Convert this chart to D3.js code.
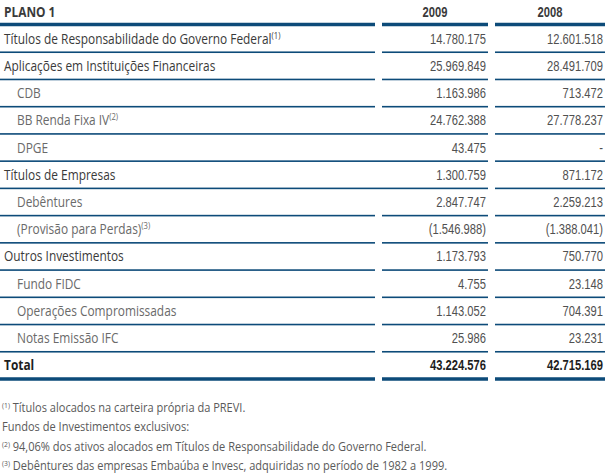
<!DOCTYPE html>
<html><head><meta charset="utf-8">
<script src="https://cdn.jsdelivr.net/npm/d3@7"></script>
<style>body{margin:0;background:#fff}svg{display:block}</style>
</head><body>
<svg id="c" width="605" height="475"></svg>
<script>
// ---- data ----
const headers = ["PLANO 1", "2009", "2008"];
const labels = [
  "T\u00edtulos de Responsabilidade do Governo Federal",
  "Aplica\u00e7\u00f5es em Institui\u00e7\u00f5es Financeiras",
  "CDB",
  "BB Renda Fixa IV",
  "DPGE",
  "T\u00edtulos de Empresas",
  "Deb\u00eantures",
  "(Provis\u00e3o para Perdas)",
  "Outros Investimentos",
  "Fundo FIDC",
  "Opera\u00e7\u00f5es Compromissadas",
  "Notas Emiss\u00e3o IFC",
  "Total"
];
const labelNotes = ["(1)", "", "", "(2)", "", "", "", "(3)", "", "", "", "", ""];
const rowTypes = ["group","group","item","item","item","group","item","item","group","item","item","item","total"];
const values2009 = ["14.780.175","25.969.849","1.163.986","24.762.388","43.475","1.300.759","2.847.747","(1.546.988)","1.173.793","4.755","1.143.052","25.986","43.224.576"];
const values2008 = ["12.601.518","28.491.709","713.472","27.778.237","-","871.172","2.259.213","(1.388.041)","750.770","23.148","704.391","23.231","42.715.169"];
const footnoteMarks = ["(1)", "", "(2)", "(3)"];
const footnoteTexts = [
  "T\u00edtulos alocados na carteira pr\u00f3pria da PREVI.",
  "Fundos de Investimentos exclusivos:",
  "94,06% dos ativos alocados em T\u00edtulos de Responsabilidade do Governo Federal.",
  "Deb\u00eantures das empresas Emba\u00faba e Invesc, adquiridas no per\u00edodo de 1982 a 1999."
];

// ---- layout ----
const svg = d3.select("#c");
const blue = "#0d4b79";
const cols = [[0, 375], [382, 488], [495, 605]];
const y = d3.scaleBand().domain(d3.range(labels.length)).range([25, 379]);
const joined = new Set([3, 4, 5]);
const sx = 0.85, nsx = 0.8;
const labelFont = "'Open Sans', 'Noto Sans', sans-serif";
const numFont = "'Liberation Sans', Arial, sans-serif";

// header
const hdr = svg.append("g");
hdr.append("text").attr("transform", "translate(4,17) scale(" + sx + ",1)")
  .attr("font-family", labelFont).attr("font-weight", 700).attr("font-size", 14)
  .attr("fill", "#3a3a3a").text(headers[0]);
[1, 2].forEach(c => {
  hdr.append("text")
    .attr("transform", "translate(" + ((cols[c][0] + cols[c][1]) / 2) + ",17) scale(" + nsx + ",1)")
    .attr("text-anchor", "middle").attr("font-family", numFont).attr("font-weight", 700)
    .attr("font-size", 14).attr("fill", "#3a3a3a").text(headers[c]);
});

// rules
function rule(yy, th, segs) {
  segs.forEach(s => svg.append("rect").attr("x", s[0]).attr("y", yy - th / 2)
    .attr("width", s[1] - s[0]).attr("height", th).attr("fill", blue));
}
rule(y(0) - 0.5, 3.5, cols);

// rows
const rows = svg.selectAll("g.row").data(labels).join("g").attr("class", "row");
rows.each(function (d, i) {
  const g = d3.select(this);
  const top = y(i), bot = top + y.bandwidth();
  const base = top + y.bandwidth() / 2 + 5;
  const t = rowTypes[i];
  const lx = t === "item" ? 17 : 4;
  const col = t === "item" ? "#6a6a6a" : (t === "total" ? "#1e1e1e" : "#3a3a3a");
  const fw = t === "total" ? 700 : 400;
  const txt = g.append("text").attr("transform", "translate(" + lx + "," + base + ") scale(" + sx + ",1)")
    .attr("font-family", labelFont).attr("font-size", 14).attr("font-weight", fw).attr("fill", col);
  txt.append("tspan").text(d.normalize("NFC"));
  if (labelNotes[i]) txt.append("tspan").attr("font-size", 9).attr("dy", -5).text(labelNotes[i]);
  const ncol = t === "total" ? "#1e1e1e" : "#505050";
  const nfw = t === "total" ? 700 : 400;
  [[values2009, 1], [values2008, 2]].forEach(([arr, c]) => {
    g.append("text").attr("transform", "translate(" + (cols[c][1] - 2) + "," + base + ") scale(" + nsx + ",1)")
      .attr("text-anchor", "end").attr("font-family", numFont).attr("font-size", 14)
      .attr("font-weight", nfw).attr("fill", ncol).text(arr[i]);
  });
  if (i < labels.length - 1) {
    const segs = joined.has(i) ? [[0, cols[1][1]], cols[2]] : cols;
    rule(bot, 1.6, segs);
  } else {
    rule(bot, 3.5, cols);
  }
});

// footnotes
const fy = d3.scalePoint().domain(d3.range(footnoteTexts.length)).range([412, 470]);
footnoteTexts.forEach((ft, i) => {
  const t = svg.append("text").attr("transform", "translate(2," + fy(i) + ") scale(" + sx + ",1)")
    .attr("font-family", labelFont).attr("font-size", 13).attr("font-weight", 400).attr("fill", "#5a5a5a");
  if (footnoteMarks[i]) t.append("tspan").attr("font-size", 8).attr("dy", -4).text(footnoteMarks[i]);
  t.append("tspan").attr("dy", footnoteMarks[i] ? 4 : 0).text((footnoteMarks[i] ? " " : "") + ft.normalize("NFC"));
});
</script>
</body></html>
